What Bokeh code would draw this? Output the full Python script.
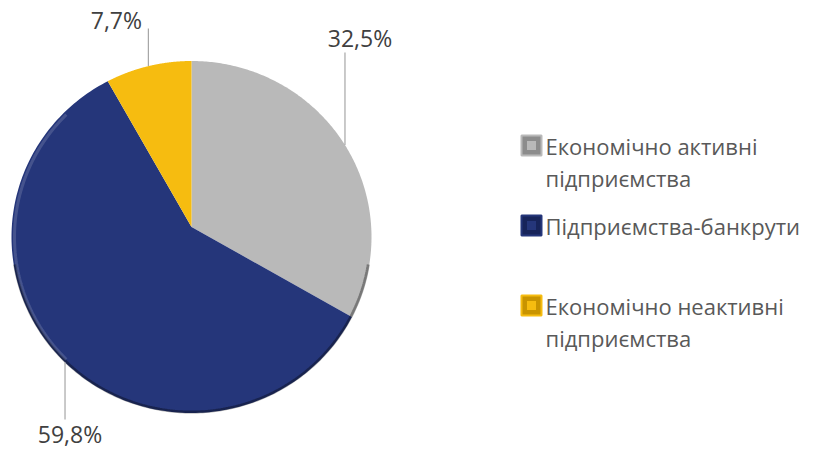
import numpy as np
from bokeh.plotting import figure
from bokeh.models import Range1d
from bokeh.embed import file_html
from bokeh.resources import INLINE
from bokeh.core.properties import value

# ---- data ----
categories = ["Економічно активні\nпідприємства",
              "Підприємства-банкрути",
              "Економічно неактивні\nпідприємства"]
shares = [32.5, 59.8, 7.7]
share_labels = ["32,5%", "59,8%", "7,7%"]
colors = ["#b9b9b9", "#25367a", "#f6bc10"]
dark_colors = ["#8c8c8c", "#17245a", "#c99400"]

# ---- layout (screen-pixel coordinates) ----
W, H = 810, 450
p = figure(width=W, height=H, x_range=Range1d(0, W), y_range=Range1d(H, 0),
           output_backend="svg", toolbar_location=None, min_border=0)
p.axis.visible = False
p.grid.visible = False
p.outline_line_color = None

cx, cy, rx, ry = 191, 236.5, 180, 176   # pie ellipse
ax, ay = 191, 226.5                     # apex

total = float(sum(shares))
fracs = np.array(shares) / total
ends = np.cumsum(fracs) * 2 * np.pi
starts = ends - fracs * 2 * np.pi

xs, ys = [], []
for a0, a1 in zip(starts, ends):
    t = np.linspace(a0, a1, 200)
    xs.append([ax] + list(cx + rx * np.sin(t)))
    ys.append([ay] + list(cy - ry * np.cos(t)))
p.patches(xs, ys, fill_color=colors, line_color=None)

# bevel shading along the rim
t = np.linspace(np.pi * 0.55, np.pi * 1.45, 200)
p.line(cx + (rx - 1) * np.sin(t), cy - (ry - 1) * np.cos(t),
       line_color="#000000", line_alpha=0.35, line_width=3)
t = np.linspace(np.pi * 1.25, np.pi * 1.75, 200)
p.line(cx + (rx - 3) * np.sin(t), cy - (ry - 3) * np.cos(t),
       line_color="#ffffff", line_alpha=0.15, line_width=3)

# data labels with vertical leader lines
label_layout = [  # (text dx from leader, text y, leader end y)
    (15, 37, 52),
    (5, 433, 419),
    (-32, 19, 28),
]
mids = (starts + ends) / 2
for m, lab, (dx, ty, ly) in zip(mids, share_labels, label_layout):
    ex = cx + rx * np.sin(m)
    ey = cy - ry * np.cos(m)
    p.line([ex, ex], [ey, ly], line_color="#a6a6a6", line_width=1.2)
    p.text([ex + dx], [ty], text=[lab], text_font=value("Open Sans"),
           text_font_size="23px", text_color="#404040",
           text_align="center", text_baseline="middle")

# legend
leg_x = 531
leg_y = [145, 225, 305]
line_gap = 32
for cat, col, dcol, y in zip(categories, colors, dark_colors, leg_y):
    p.rect([leg_x], [y], width=20, height=20, fill_color=dcol,
           line_color=col, line_width=2)
    p.rect([leg_x], [y], width=9, height=9, fill_color=col, line_color=None)
    for i, ln in enumerate(cat.split("\n")):
        p.text([leg_x + 14], [y + i * line_gap], text=[ln], text_font=value("Open Sans"),
               text_font_size="22px", text_color="#595959",
               text_align="left", text_baseline="middle")

open("out.html", "w").write(file_html(p, INLINE))
